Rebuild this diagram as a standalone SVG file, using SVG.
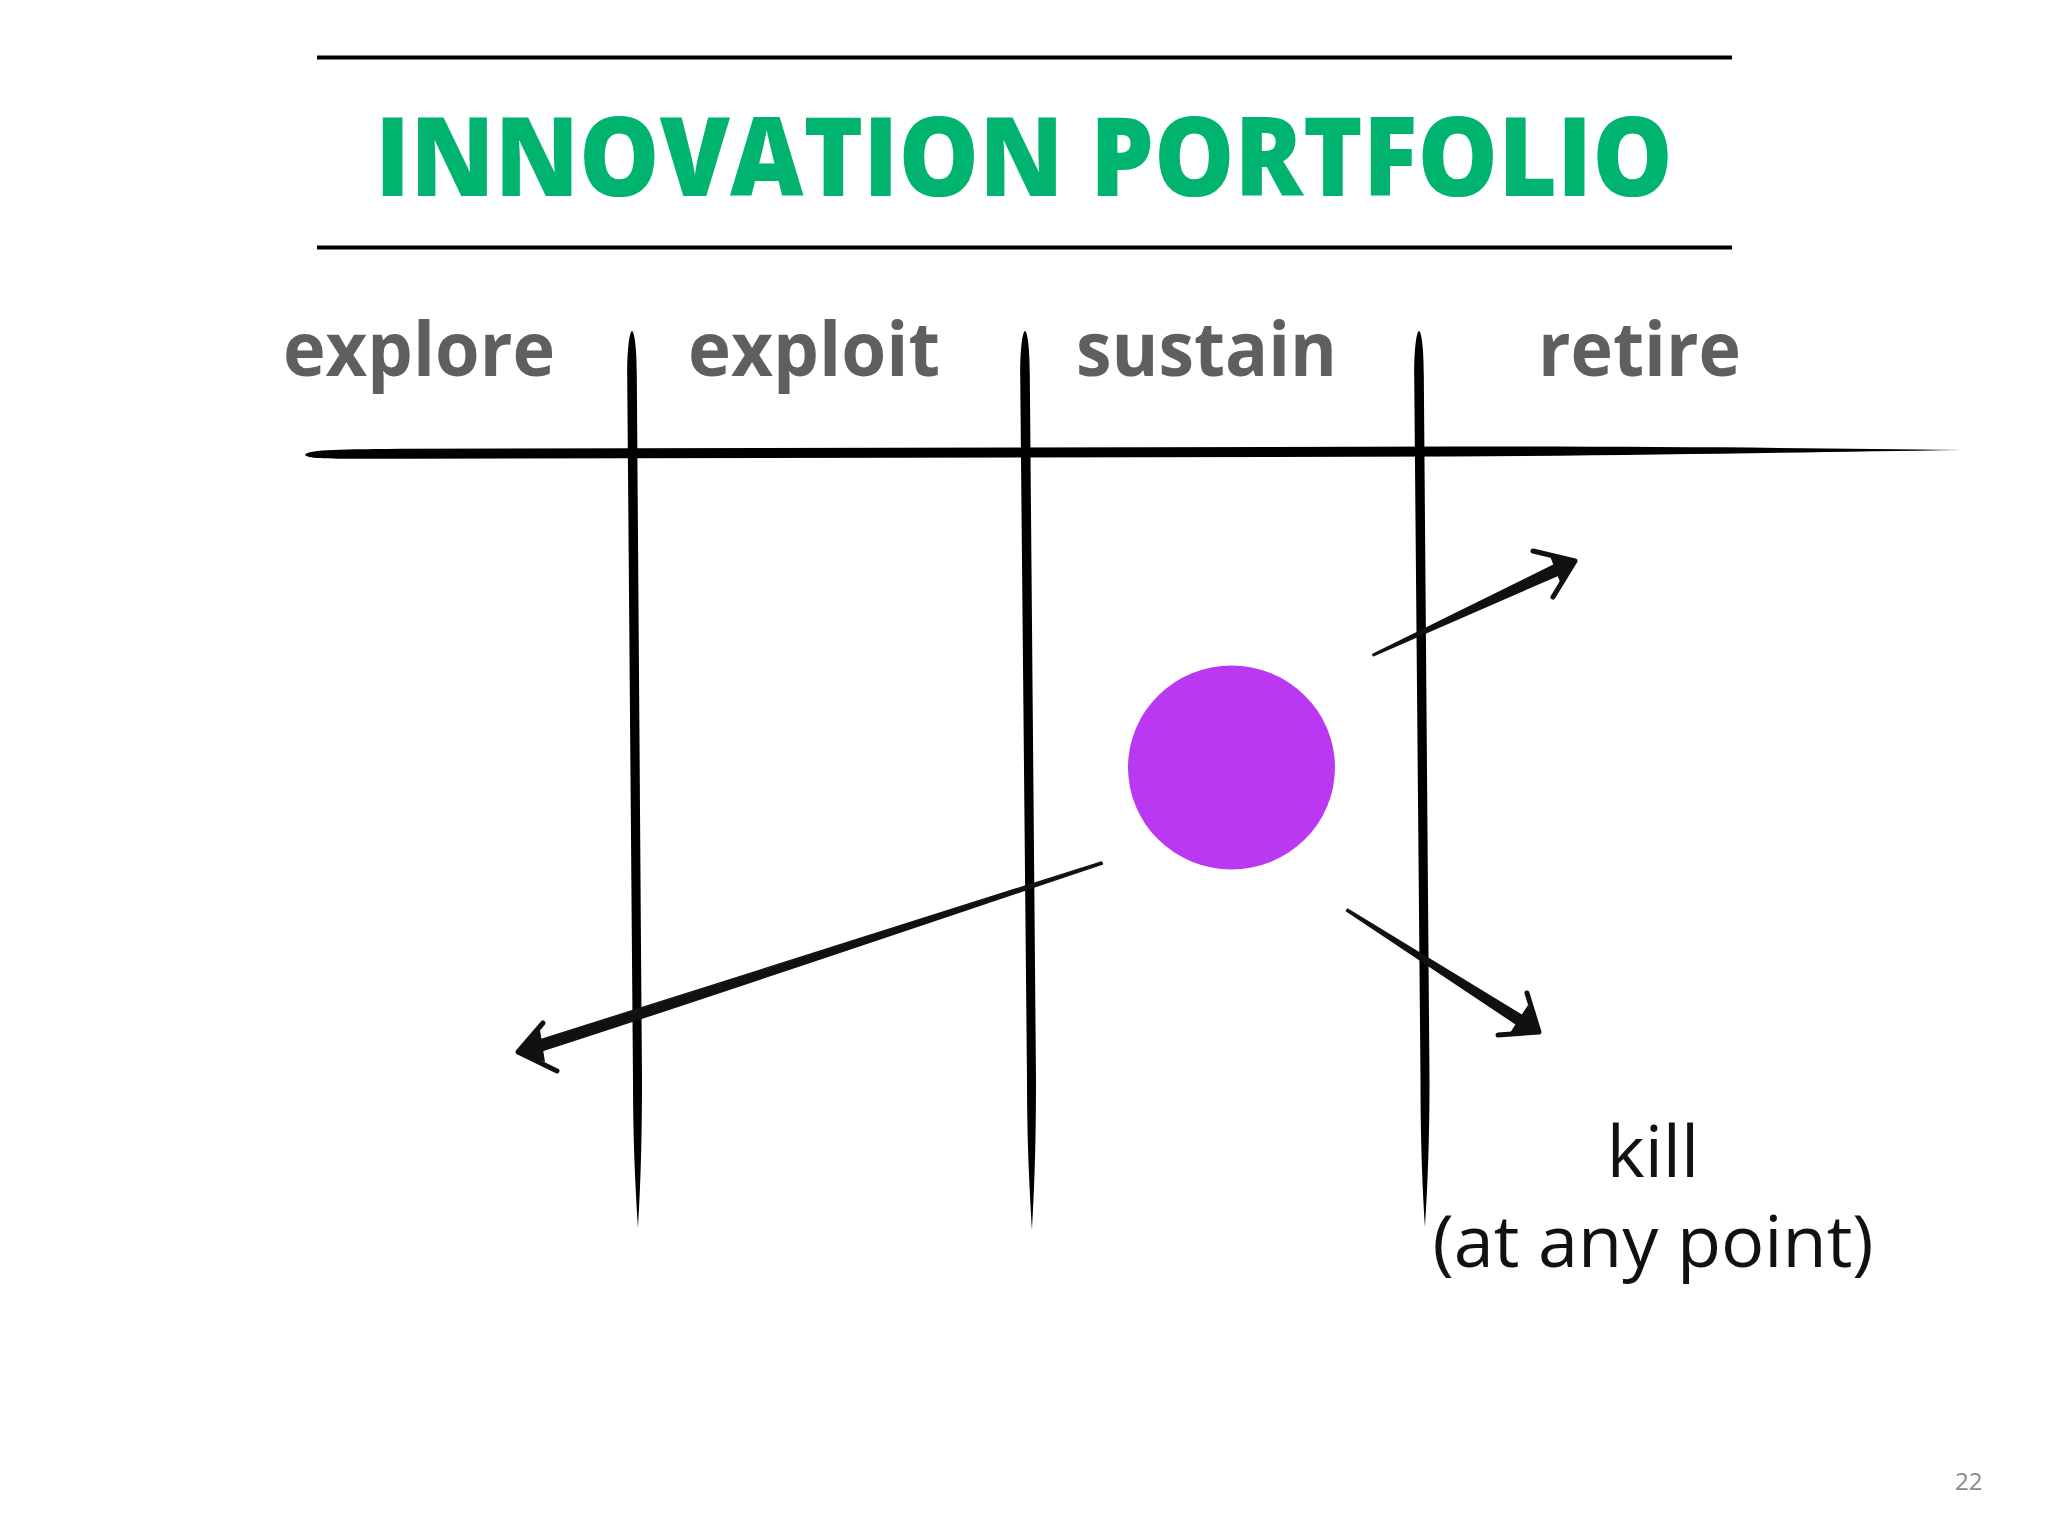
<svg xmlns="http://www.w3.org/2000/svg" width="2048" height="1536" viewBox="0 0 2048 1536">
  <style>
    .rule { stroke: #000; stroke-width: 4; fill: none; }
    .title { font-family: "Open Sans", "Liberation Sans", sans-serif; font-weight: 800; font-size: 110px; fill: #00B36E; }
    .stage { font-family: "Open Sans", "Liberation Sans", sans-serif; font-weight: 700; font-size: 75px; fill: #5F5F62; }
    .note { font-family: "Open Sans", "Liberation Sans", sans-serif; font-weight: 400; font-size: 72px; fill: #111; }
    .pg { font-family: "Open Sans", "Liberation Sans", sans-serif; font-size: 24px; fill: #8A8A8A; }
    .brush { fill: #000; stroke: none; }
    .shaft { fill: #111; stroke: #111; stroke-width: 1.5; stroke-linejoin: round; }
    .head { fill: none; stroke: #111; stroke-width: 5; stroke-linecap: round; stroke-linejoin: round; }
    .headfill { fill: #111; stroke: none; }
  </style>
  <rect width="2048" height="1536" fill="#fff"/>

  <g id="title">
    <line class="rule" x1="317" y1="57.5" x2="1732" y2="57.5"/>
    <text class="title" x="375" y="196" textLength="1298" lengthAdjust="spacingAndGlyphs">INNOVATION PORTFOLIO</text>
    <line class="rule" x1="317" y1="247.5" x2="1732" y2="247.5"/>
  </g>

  <g id="grid">
    <path id="axis" class="brush" d="M 305 455 C 308 450 330 449.5 400 448.8 L 1450 446.5 C 1650 446.5 1820 448 1962 450 C 1820 452 1650 455.5 1450 456.5 L 400 458.8 C 330 459 308 459 305 455 Z"/>
    <path id="div1" class="brush" d="M 632 331 C 634 331 636.8 345 636.8 375 L 642 1080 C 642 1150 640 1195 638 1228 C 636 1195 633 1150 633 1080 L 627.2 375 C 627.2 345 630 331 632 331 Z"/>
    <path id="div2" class="brush" d="M 1025 331 C 1027 331 1029.8 345 1029.8 375 L 1036 1080 C 1036 1150 1034 1195 1032 1230 C 1030 1195 1027 1150 1027 1080 L 1020.2 375 C 1020.2 345 1023 331 1025 331 Z"/>
    <path id="div3" class="brush" d="M 1419 331 C 1421 331 1423.8 345 1423.8 375 L 1429.5 1080 C 1429.5 1150 1427 1195 1425 1227 C 1423 1195 1420.5 1150 1420.5 1080 L 1414.2 375 C 1414.2 345 1417 331 1419 331 Z"/>
  </g>

  <g id="stage-explore"><text class="stage" x="283" y="376" textLength="272" lengthAdjust="spacingAndGlyphs">explore</text></g>
  <g id="stage-exploit"><text class="stage" x="688" y="376" textLength="252" lengthAdjust="spacingAndGlyphs">exploit</text></g>
  <g id="stage-sustain"><text class="stage" x="1076" y="376" textLength="261" lengthAdjust="spacingAndGlyphs">sustain</text></g>
  <g id="stage-retire"><text class="stage" x="1538" y="376" textLength="203" lengthAdjust="spacingAndGlyphs">retire</text></g>

  <g id="initiative">
    <ellipse cx="1231.5" cy="767.5" rx="103.5" ry="102" fill="#BB38F2"/>
  </g>

  <g id="connectors">
    <g id="arrow-back">
      <path class="shaft" d="M 1101.6 861.9 C 900 926 700 990 535 1041.5 L 517 1053 L 538 1052 C 700 1000 900 932 1102.4 864.1 Z"/>
      <path class="head" d="M 543 1023 L 518 1052 L 557 1071"/>
      <path class="headfill" d="M 540 1030 L 517 1053 L 545 1062 Z"/>
    </g>
    <g id="arrow-retire">
      <path class="shaft" d="M 1372.7 654.3 L 1557 563.5 L 1576 561 L 1562 573.5 L 1373.3 655.7 Z"/>
      <path class="head" d="M 1533 551 L 1575 561 L 1553 597"/>
      <path class="headfill" d="M 1550 556 L 1576 561 L 1560 582 Z"/>
    </g>
    <g id="arrow-kill">
      <path class="shaft" d="M 1347.6 909.2 L 1528 1019 L 1540 1033 L 1521.8 1027.8 L 1346.4 910.8 Z"/>
      <path class="head" d="M 1527 993 L 1539 1032 L 1498 1035"/>
      <path class="headfill" d="M 1528 1005 L 1540 1033 L 1510 1033 Z"/>
    </g>
  </g>

  <g id="kill-label">
    <text class="note" x="1653" y="1177" text-anchor="middle">kill</text>
    <text class="note" x="1653" y="1267" text-anchor="middle">(at any point)</text>
  </g>

  <g id="page-number">
    <text class="pg" x="1955" y="1490">22</text>
  </g>
</svg>
